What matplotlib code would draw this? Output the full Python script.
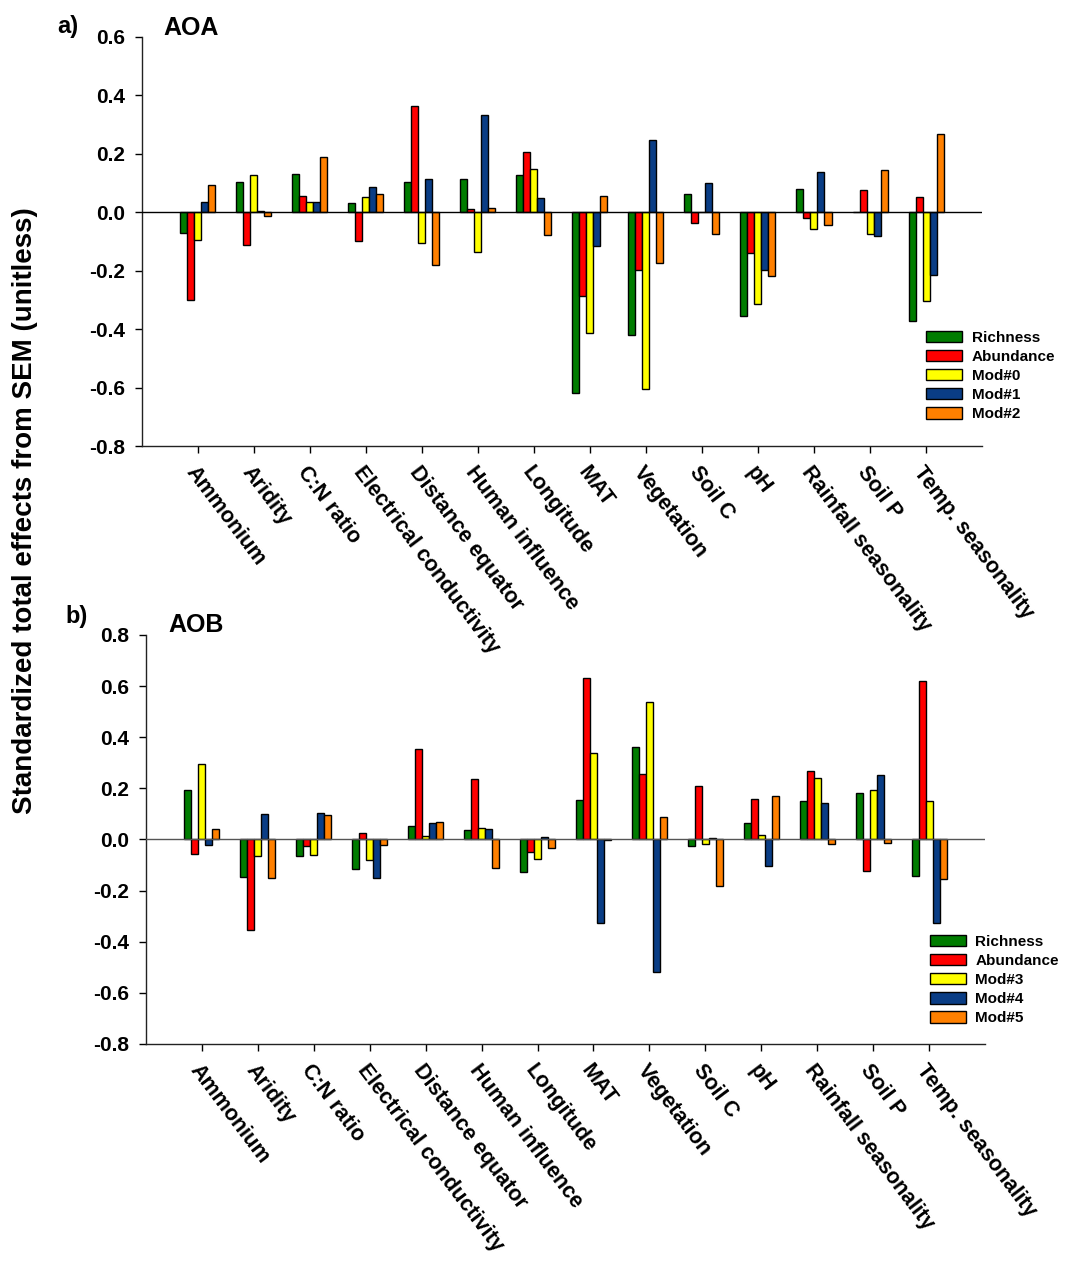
import matplotlib
matplotlib.use('Agg')
import numpy as np
import matplotlib.pyplot as plt
from matplotlib.patches import Patch

plt.rcParams['font.family'] = ['Liberation Sans', 'DejaVu Sans']
plt.rcParams['font.weight'] = 'bold'

# predictors (same order in both panels)
categories = ["Ammonium", "Aridity", "C:N ratio", "Electrical conductivity",
              "Distance equator", "Human influence", "Longitude", "MAT",
              "Vegetation", "Soil C", "pH", "Rainfall seasonality", "Soil P",
              "Temp. seasonality"]

# a) AOA
aoa_richness = [-0.072, 0.102, 0.130, 0.033, 0.102, 0.114, 0.127, -0.620, -0.421, 0.064, -0.355, 0.079, 0.0, -0.372]
aoa_abundance = [-0.300, -0.113, 0.056, -0.099, 0.364, 0.011, 0.207, -0.287, -0.197, -0.038, -0.140, -0.019, 0.076, 0.051]
aoa_mod0 = [-0.095, 0.127, 0.034, 0.053, -0.106, -0.137, 0.148, -0.412, -0.606, 0.002, -0.313, -0.056, -0.074, -0.305]
aoa_mod1 = [0.034, 0.006, 0.034, 0.086, 0.114, 0.333, 0.048, -0.115, 0.248, 0.099, -0.197, 0.139, -0.081, -0.215]
aoa_mod2 = [0.095, -0.014, 0.188, 0.062, -0.182, 0.016, -0.078, 0.054, -0.172, -0.074, -0.217, -0.045, 0.144, 0.268]

# b) AOB
aob_richness = [0.194, -0.147, -0.063, -0.116, 0.053, 0.035, -0.129, 0.156, 0.361, -0.026, 0.065, 0.150, 0.180, -0.143]
aob_abundance = [-0.056, -0.356, -0.025, 0.025, 0.355, 0.236, -0.050, 0.632, 0.256, 0.209, 0.159, 0.266, -0.123, 0.618]
aob_mod3 = [0.296, -0.065, -0.060, -0.082, 0.013, 0.046, -0.076, 0.339, 0.537, -0.017, 0.017, 0.241, 0.194, 0.149]
aob_mod4 = [-0.020, 0.099, 0.104, -0.150, 0.064, 0.042, 0.009, -0.325, -0.519, 0.004, -0.103, 0.142, 0.252, -0.325]
aob_mod5 = [0.042, -0.151, 0.094, -0.020, 0.070, -0.110, -0.035, -0.004, 0.089, -0.183, 0.171, -0.017, -0.013, -0.153]

aoa_labels = ["Richness", "Abundance", "Mod#0", "Mod#1", "Mod#2"]
aob_labels = ["Richness", "Abundance", "Mod#3", "Mod#4", "Mod#5"]
colors = ['#007c00', '#ff0000', '#ffff00', '#0a3d85', '#ff8000']

fig = plt.figure(figsize=(10.73, 12.66), dpi=100)
ax1 = fig.add_axes([0.1323, 0.6477, 0.7829, 0.3231])
ax2 = fig.add_axes([0.1361, 0.1754, 0.7819, 0.3231])
ax1.set_zorder(3)  # top panel's long tick labels run over the lower panel

x = np.arange(len(categories))
width = 0.125


def draw_panel(ax, series, labels, ylim, zero_color, leg_anchor):
    for i, (vals, lab) in enumerate(zip(series, labels)):
        ax.bar(x + (i - 2) * width, vals, width, color=colors[i], edgecolor='black',
               linewidth=1, label=lab, zorder=2)
    ax.axhline(0, color=zero_color, linewidth=1, zorder=3)
    ax.set_xlim(-1, len(categories))
    ax.set_ylim(*ylim)
    yt = np.round(np.arange(ylim[0], ylim[1] + 0.01, 0.2), 1) + 0.0
    ax.set_yticks(yt)
    ax.set_yticklabels([f'{abs(v):.1f}' if abs(v) < 1e-9 else f'{v:.1f}' for v in yt],
                       fontsize=15, fontweight='bold')
    ax.set_xticks(x)
    ax.set_xticklabels(categories, rotation=-53, ha='left', va='top',
                       rotation_mode='anchor', fontsize=15.5, fontweight='bold')
    ax.tick_params(axis='both', direction='out', length=5, width=1, pad=7)
    for side in ['top', 'right']:
        ax.spines[side].set_visible(False)
    for side in ['left', 'bottom']:
        ax.spines[side].set_linewidth(1)
        ax.spines[side].set_color('#222222')
    handles = [Patch(facecolor=colors[i], edgecolor='black', label=labels[i]) for i in range(5)]
    ax.legend(handles=handles, loc='upper left', bbox_to_anchor=leg_anchor, frameon=False,
              prop={'size': 11, 'weight': 'bold'}, handlelength=2.4, handleheight=0.8,
              labelspacing=0.32, handletextpad=0.6, borderpad=0, borderaxespad=0)


draw_panel(ax1, [aoa_richness, aoa_abundance, aoa_mod0, aoa_mod1, aoa_mod2], aoa_labels,
           (-0.8, 0.6), 'black', (0.933, 0.282))
draw_panel(ax2, [aob_richness, aob_abundance, aob_mod3, aob_mod4, aob_mod5], aob_labels,
           (-0.8, 0.8), '#555555', (0.934, 0.267))

fig.text(57 / 1073, 1 - 33 / 1266, 'a)', fontsize=17, fontweight='bold', va='baseline')
fig.text(163 / 1073, 1 - 35 / 1266, 'AOA', fontsize=18, fontweight='bold', va='baseline')
fig.text(65 / 1073, 1 - 623 / 1266, 'b)', fontsize=17, fontweight='bold', va='baseline')
fig.text(168 / 1073, 1 - 632 / 1266, 'AOB', fontsize=18, fontweight='bold', va='baseline')
fig.text(25 / 1073, 1 - 511 / 1266, 'Standardized total effects from SEM (unitless)',
         fontsize=20, fontweight='bold', rotation=90, ha='center', va='center')

fig.savefig('out.png', dpi=100)
